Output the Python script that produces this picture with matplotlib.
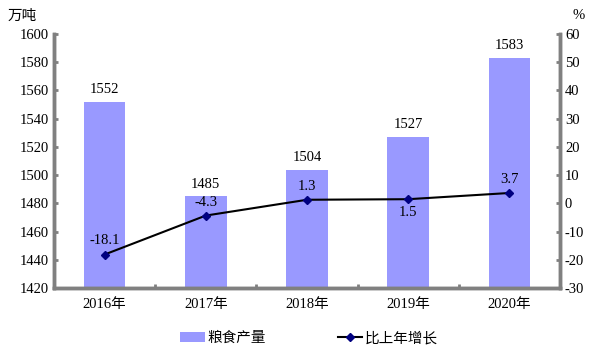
import matplotlib.pyplot as plt
import numpy as np
from matplotlib.lines import Line2D
from matplotlib.patches import Patch

plt.rcParams['axes.unicode_minus'] = False

years = ['2016年', '2017年', '2018年', '2019年', '2020年']
output = [1552, 1485, 1504, 1527, 1583]
growth = [-18.1, -4.3, 1.3, 1.5, 3.7]
growth_label_below = [False, False, False, True, False]

FONT = ['Liberation Serif', 'Noto Sans CJK SC']
CJK = ['Noto Sans CJK SC', 'DejaVu Sans']
BAR_COLOR = '#9999ff'
SPINE_COLOR = '#808080'
FS = 10.5

fig = plt.figure(figsize=(5.99, 3.54), dpi=100)
ax = fig.add_axes([0.090, 0.186, 0.845, 0.718])
ax2 = ax.twinx()

x = np.arange(len(years))
ax.bar(x, output, width=0.41, color=BAR_COLOR, zorder=2)
for xi, v in zip(x, output):
    ax.text(xi, v + 4, str(v), ha='center', va='bottom', fontsize=FS, family=FONT)

ax.set_ylim(1420, 1600)
ax.set_yticks(np.arange(1420, 1601, 20))
ax.set_xlim(-0.5, len(years) - 0.5)
ax.set_xticks(x)
ax.set_xticklabels(years, family=FONT, fontsize=FS)
ax.set_xticks(np.arange(-0.5, len(years)), minor=True)
ax.tick_params(axis='x', which='major', length=0, pad=7)
ax.tick_params(axis='x', which='minor', direction='in', length=3, width=2, color=SPINE_COLOR)
ax.tick_params(axis='y', direction='in', length=3, width=2, color=SPINE_COLOR, labelsize=FS)
for lbl in ax.get_yticklabels():
    lbl.set_family(FONT)

ax2.plot(x, growth, color='black', lw=1.5, marker='D', markersize=4.5,
         markerfacecolor='#000080', markeredgecolor='#000080', zorder=3)
for xi, v, below in zip(x, growth, growth_label_below):
    if below:
        ax2.text(xi, v - 2.5, f'{v}', ha='center', va='top', fontsize=FS, family=FONT)
    else:
        ax2.text(xi, v + 2.5, f'{v}', ha='center', va='bottom', fontsize=FS, family=FONT)
ax2.set_ylim(-30, 60)
ax2.set_yticks(np.arange(-30, 61, 10))
ax2.tick_params(axis='y', direction='in', length=3, width=2, color=SPINE_COLOR, labelsize=FS)
for lbl in ax2.get_yticklabels():
    lbl.set_family(FONT)

for a in (ax, ax2):
    a.spines['top'].set_visible(False)
    for s in ('left', 'right', 'bottom'):
        a.spines[s].set_color(SPINE_COLOR)
        a.spines[s].set_linewidth(2.5)

fig.text(0.012, 0.955, '万吨', family=CJK, fontsize=FS, va='center')
fig.text(0.955, 0.955, '%', family=FONT, fontsize=FS, va='center')

handles = [Patch(facecolor=BAR_COLOR, edgecolor='none'),
           Line2D([], [], color='black', lw=1.5, marker='D', markersize=4,
                  markerfacecolor='#000080', markeredgecolor='#000080')]
fig.legend(handles, ['粮食产量', '比上年增长'], loc='center', bbox_to_anchor=(0.516, 0.045),
           ncol=2, frameon=False, prop={'family': CJK, 'size': FS},
           columnspacing=4.9, handlelength=1.7, handletextpad=0.2)

fig.savefig('out.png', dpi=100)
